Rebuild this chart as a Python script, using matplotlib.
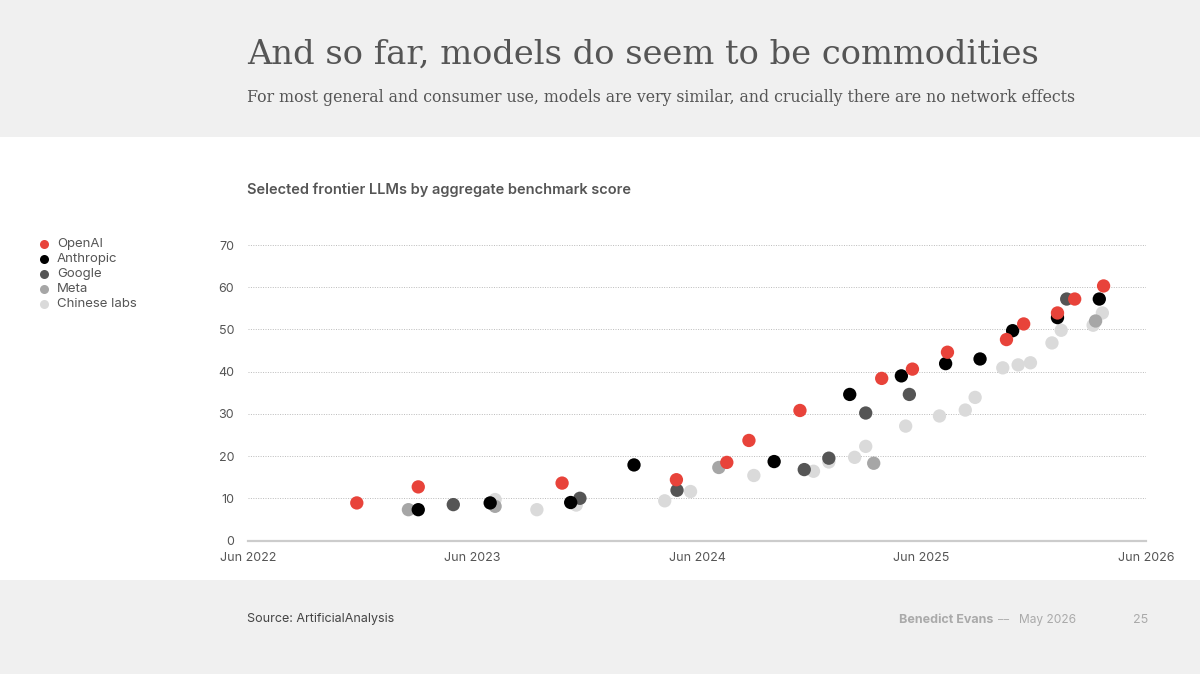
import matplotlib
matplotlib.use("Agg")
import matplotlib.pyplot as plt
import pandas as pd
from matplotlib.patches import Rectangle

# ---- data ----
openai_dates = ["2022-11-25", "2023-03-05", "2023-10-25", "2024-04-28", "2024-07-19",
                "2024-08-24", "2024-11-15", "2025-03-28", "2025-05-17", "2025-07-13",
                "2025-10-17", "2025-11-14", "2026-01-08", "2026-02-05", "2026-03-24"]
openai_scores = [8.9, 12.7, 13.6, 14.4, 18.5, 23.7, 30.8, 38.4, 40.6, 44.6,
                 47.6, 51.3, 53.9, 57.2, 60.3]

anthropic_dates = ["2023-03-05", "2023-06-30", "2023-11-08", "2024-02-19", "2024-10-04",
                   "2025-02-04", "2025-04-29", "2025-07-10", "2025-09-04", "2025-10-27",
                   "2026-01-08", "2026-03-17"]
anthropic_scores = [7.3, 8.9, 9.0, 17.9, 18.7, 34.6, 39.0, 41.9, 43.0, 49.7, 52.8, 57.2]

google_dates = ["2023-05-01", "2023-11-23", "2024-04-29", "2024-11-22", "2025-01-01",
                "2025-03-02", "2025-05-12", "2026-01-23"]
google_scores = [8.5, 10.0, 11.9, 16.8, 19.5, 30.2, 34.6, 57.2]

meta_dates = ["2023-02-17", "2023-07-08", "2024-07-06", "2025-03-15", "2026-03-11"]
meta_scores = [7.3, 8.1, 17.3, 18.3, 52.0]

chinese_dates = ["2023-07-08", "2023-09-14", "2023-11-17", "2024-04-09", "2024-05-21",
                 "2024-09-01", "2024-12-07", "2025-01-01", "2025-02-12", "2025-03-02",
                 "2025-05-06", "2025-06-30", "2025-08-11", "2025-08-27", "2025-10-11",
                 "2025-11-05", "2025-11-25", "2025-12-30", "2026-01-14", "2026-03-07",
                 "2026-03-22"]
chinese_scores = [9.7, 7.3, 8.4, 9.4, 11.6, 15.4, 16.4, 18.6, 19.7, 22.3,
                  27.1, 29.5, 30.9, 33.9, 40.9, 41.6, 42.1, 46.8, 49.8, 51.0, 53.9]

series_names = ["OpenAI", "Anthropic", "Google", "Meta", "Chinese labs"]
series_colors = ["#e8433a", "#000000", "#555555", "#a6a6a6", "#dadada"]
series_dates = [openai_dates, anthropic_dates, google_dates, meta_dates, chinese_dates]
series_scores = [openai_scores, anthropic_scores, google_scores, meta_scores, chinese_scores]

x_ticks = ["2022-06-01", "2023-06-01", "2024-06-01", "2025-06-01", "2026-06-01"]
x_tick_labels = ["Jun 2022", "Jun 2023", "Jun 2024", "Jun 2025", "Jun 2026"]
y_ticks = [0, 10, 20, 30, 40, 50, 60, 70]

# ---- figure ----
W, H = 1200, 674
fig = plt.figure(figsize=(W / 100, H / 100), dpi=100)
fig.patch.set_facecolor("white")

band = "#f0f0f0"
fig.add_artist(Rectangle((0, 1 - 137 / H), 1, 137 / H, transform=fig.transFigure,
                         facecolor=band, edgecolor="none", zorder=0))
fig.add_artist(Rectangle((0, 0), 1, (H - 580) / H, transform=fig.transFigure,
                         facecolor=band, edgecolor="none", zorder=0))

def fx(px):
    return px / W

def fy(py):
    return 1 - py / H

fig.text(fx(247), fy(55), "And so far, models do seem to be commodities",
         family="DejaVu Serif", fontsize=24.3, color="#555555", va="center", ha="left")
fig.text(fx(247), fy(97),
         "For most general and consumer use, models are very similar, and crucially there are no network effects",
         family="DejaVu Serif", fontsize=11.35, color="#555555", va="center", ha="left")

fig.text(fx(247), fy(190), "Selected frontier LLMs by aggregate benchmark score",
         family="Inter", fontsize=10.5, fontweight="semibold", color="#555555",
         va="center", ha="left")

# axes
left, right, top, bottom = 248, 1146, 245, 540.5
ax = fig.add_axes([fx(left), fy(bottom), (right - left) / W, (bottom - top) / H])
ax.set_facecolor("none")

for name, col, ds, sc, z in zip(series_names, series_colors, series_dates,
                                series_scores, [7, 6, 5, 4, 3]):
    ax.scatter(pd.to_datetime(ds), sc, s=92, color=col, edgecolors="none",
               zorder=z, label=name, clip_on=False)

ax.set_xlim(pd.Timestamp(x_ticks[0]), pd.Timestamp(x_ticks[-1]))
ax.set_ylim(0, 70)
ax.set_yticks(y_ticks)
ax.set_xticks(pd.to_datetime(x_ticks))
ax.set_xticklabels(x_tick_labels)
for s in ["top", "right", "left"]:
    ax.spines[s].set_visible(False)
ax.spines["bottom"].set_color("#cccccc")
ax.spines["bottom"].set_linewidth(1.6)
ax.tick_params(axis="both", length=0, labelsize=9, labelcolor="#555555")
ax.tick_params(axis="y", pad=10)
ax.tick_params(axis="x", pad=8)
for lab in ax.get_xticklabels() + ax.get_yticklabels():
    lab.set_family("Inter")
ax.yaxis.grid(True, linestyle=(0, (1, 1.5)), color="#bbbbbb", linewidth=0.7)
ax.set_axisbelow(True)
ax.xaxis.grid(False)

# legend (manual, in figure coords)
leg_y = [244, 259, 274, 289, 304]
for name, col, yy in zip(series_names, series_colors, leg_y):
    fig.add_artist(plt.Line2D([fx(44)], [fy(yy)], marker="o", markersize=6.5,
                              color=col, markeredgewidth=0, linestyle="none",
                              transform=fig.transFigure))
    fig.text(fx(57), fy(yy), name, family="Inter", fontsize=9.5, color="#555555",
             va="center", ha="left")

# footer
fig.text(fx(247), fy(619), "Source: ArtificialAnalysis", family="Inter", fontsize=9,
         color="#444444", va="center", ha="left")
fig.text(fx(899), fy(620), "Benedict Evans", family="Inter", fontsize=9,
         fontweight="bold", color="#aaaaaa", va="center", ha="left")
fig.text(fx(998), fy(620), "–– ", family="Inter", fontsize=8,
         color="#aaaaaa", va="center", ha="left")
fig.text(fx(1019), fy(620), "May 2026", family="Inter", fontsize=8.6,
         color="#aaaaaa", va="center", ha="left")
fig.text(fx(1148), fy(620), "25", family="Inter", fontsize=9,
         color="#aaaaaa", va="center", ha="right")

fig.savefig("out.png", dpi=100)
